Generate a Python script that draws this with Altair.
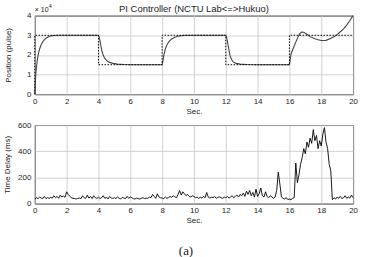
import altair as alt
import pandas as pd

# ---------------- data ----------------
pos_t = [0, 0.03, 0.07, 0.1, 0.15, 0.2, 0.25, 0.3, 0.4, 0.5, 0.6, 0.7, 0.85, 1.0, 1.2, 1.5, 2.0, 4.0,
         4.05, 4.1, 4.2, 4.3, 4.4, 4.55, 4.7, 4.9, 5.2, 5.6, 6.0, 8.0,
         8.05, 8.1, 8.2, 8.3, 8.4, 8.5, 8.6, 8.8, 9.0, 9.3, 9.6, 10.0, 12.0,
         12.05, 12.1, 12.17, 12.27, 12.37, 12.48, 12.65, 12.9, 13.3, 14.0, 16.0,
         16.05, 16.1, 16.25, 16.4, 16.55, 16.65, 16.77, 16.9, 17.1, 17.3, 17.6, 17.8, 18.0,
         18.3, 18.55, 18.75, 19.0, 19.2, 19.4, 19.6, 19.8, 20.0]
pos_v = [0, 6000, 11000, 13500, 17000, 19500, 21500, 23000, 25200, 26700, 27800, 28500, 29200, 29600, 29850, 30000, 30000, 30000,
         29000, 27000, 22500, 19800, 18200, 16900, 16200, 15700, 15300, 15100, 15000, 15000,
         17000, 19500, 23000, 25000, 26400, 27400, 28100, 29000, 29500, 29850, 30000, 30000, 30000,
         29000, 27000, 24000, 19500, 17500, 16300, 15700, 15300, 15100, 15000, 15000,
         17500, 20500, 23500, 26500, 29300, 30800, 31600, 31500, 30500, 29300, 28200, 27700, 27300,
         27400, 28200, 29000, 30300, 31800, 33300, 35200, 37500, 40000]

ref_t = [0, 0, 4, 4, 8, 8, 12, 12, 16, 16, 20]
ref_v = [0, 30000, 30000, 15000, 15000, 30000, 30000, 15000, 15000, 30000, 30000]

delay_ms = [
    35, 45, 38, 50, 42, 40, 55, 38, 45, 40,
    48, 42, 60, 45, 55, 40, 65, 50, 58, 48,
    90, 70, 55, 45, 40, 38, 35, 40, 42, 38,
    60, 45, 40, 65, 42, 55, 38, 60, 45, 40,
    50, 38, 45, 60, 40, 48, 35, 55, 42, 40,
    45, 38, 52, 40, 35, 48, 42, 38, 55, 40,
    50, 45, 38, 35, 42, 38, 35, 40, 45, 38,
    42, 40, 50, 45, 70, 55, 40, 75, 50, 45,
    42, 38, 50, 40, 45, 55, 48, 60, 52, 45,
    70, 100, 65, 90, 75, 60, 70, 55, 50, 60,
    55, 45, 50, 40, 48, 42, 55, 45, 85, 50,
    42, 50, 45, 55, 40, 48, 52, 45, 40, 50,
    45, 55, 42, 50, 60, 45, 55, 65, 50, 70,
    60, 80, 55, 95, 70, 100, 60, 85, 50, 110,
    55, 75, 120, 60, 50, 90, 55, 45, 60, 50,
    40, 50, 100, 240, 150, 50, 40, 35, 45, 30,
    35, 30, 40, 45, 310, 160, 220, 300, 350, 420,
    380, 470, 430, 500, 460, 565, 480, 520, 420, 480,
    440, 530, 580, 470, 420, 300, 250, 30, 45, 35,
    50, 40, 55, 38, 45, 60, 40, 50, 42, 65, 45]
delay_t = [round(0.1 * i, 1) for i in range(len(delay_ms))]

x_ticks = [0, 2, 4, 6, 8, 10, 12, 14, 16, 18, 20]
pos_ticks = [0, 10000, 20000, 30000, 40000]
delay_ticks = [0, 200, 400, 600]

FONT = "Liberation Sans"
TXT = "#222"

pos_df = pd.DataFrame({"t": pos_t, "v": pos_v})
ref_df = pd.DataFrame({"t": ref_t, "v": ref_v})
delay_df = pd.DataFrame({"t": delay_t, "v": delay_ms})

W, H = 320, 79

def x_enc():
    return alt.X("t:Q", scale=alt.Scale(domain=[0, 20], nice=False, zero=False),
                 axis=alt.Axis(values=x_ticks, title="Sec.", grid=True, gridColor="#c8c8c8",
                               gridWidth=0.8, domain=False, ticks=False, labelPadding=3,
                               labelFontSize=8, titleFontSize=8, titleFontWeight="normal",
                               titlePadding=2, labelFont=FONT, titleFont=FONT, labelColor=TXT,
                               titleColor=TXT, labelFlush=False, labelOverlap=False))

def y_pos():
    return alt.Y("v:Q", scale=alt.Scale(domain=[0, 40000], nice=False),
                 axis=alt.Axis(values=pos_ticks, labelExpr="datum.value/10000",
                               title="Position (pulse)", grid=True, gridColor="#c8c8c8",
                               gridWidth=0.8, domain=False, ticks=False, labelPadding=4,
                               labelFontSize=8, titleFontSize=8, titleFontWeight="normal",
                               titlePadding=14, labelFont=FONT, titleFont=FONT,
                               labelColor=TXT, titleColor=TXT, labelOverlap=False))

top_solid = alt.Chart(pos_df).mark_line(color="#444", strokeWidth=1.1).encode(x=x_enc(), y=y_pos())
top_ref = alt.Chart(ref_df).mark_line(color="black", strokeWidth=1, strokeDash=[1.5, 1.5]).encode(
    x=x_enc(), y=y_pos())

one = pd.DataFrame({"a": [0]})
exp_base = alt.Chart(one).mark_text(text="× 10", font=FONT, fontSize=7, align="left",
                                    baseline="alphabetic", color=TXT).encode(
    x=alt.value(0), y=alt.value(-4))
exp_sup = alt.Chart(one).mark_text(text="4", font=FONT, fontSize=5.5, align="left",
                                   baseline="alphabetic", color=TXT).encode(
    x=alt.value(14), y=alt.value(-8))
title_txt = alt.Chart(one).mark_text(text="PI Controller (NCTU Lab<=>Hukuo)", font=FONT,
                                     fontSize=9.5, align="center", baseline="alphabetic",
                                     color=TXT).encode(
    x=alt.value(W / 2), y=alt.value(-4))

top = alt.layer(top_solid, top_ref, exp_base, exp_sup, title_txt).properties(width=W, height=H)

bottom_line = alt.Chart(delay_df).mark_line(color="black", strokeWidth=0.9).encode(
    x=x_enc(),
    y=alt.Y("v:Q", scale=alt.Scale(domain=[0, 600], nice=False),
            axis=alt.Axis(values=delay_ticks, title="Time Delay (ms)", grid=True,
                          gridColor="#c8c8c8", gridWidth=0.8, domain=False, ticks=False,
                          labelPadding=4, labelFontSize=8, titleFontSize=8,
                          titleFontWeight="normal", titlePadding=6, labelFont=FONT,
                          titleFont=FONT, labelColor=TXT, titleColor=TXT, labelOverlap=False))
)
cap = alt.Chart(one).mark_text(text="(a)", font="Liberation Serif", fontSize=13, align="center",
                               baseline="alphabetic", color=TXT).encode(
    x=alt.value(W / 2 - 8), y=alt.value(H + 52))
bottom = alt.layer(bottom_line, cap).properties(width=W, height=H)

chart = alt.vconcat(top, bottom, spacing=4).properties(
    padding={"left": 3, "top": 2, "right": 8, "bottom": 0},
    background="white",
).configure_view(stroke="black", strokeWidth=1)

chart.save("out.html", embed_options={"renderer": "svg", "actions": False})
